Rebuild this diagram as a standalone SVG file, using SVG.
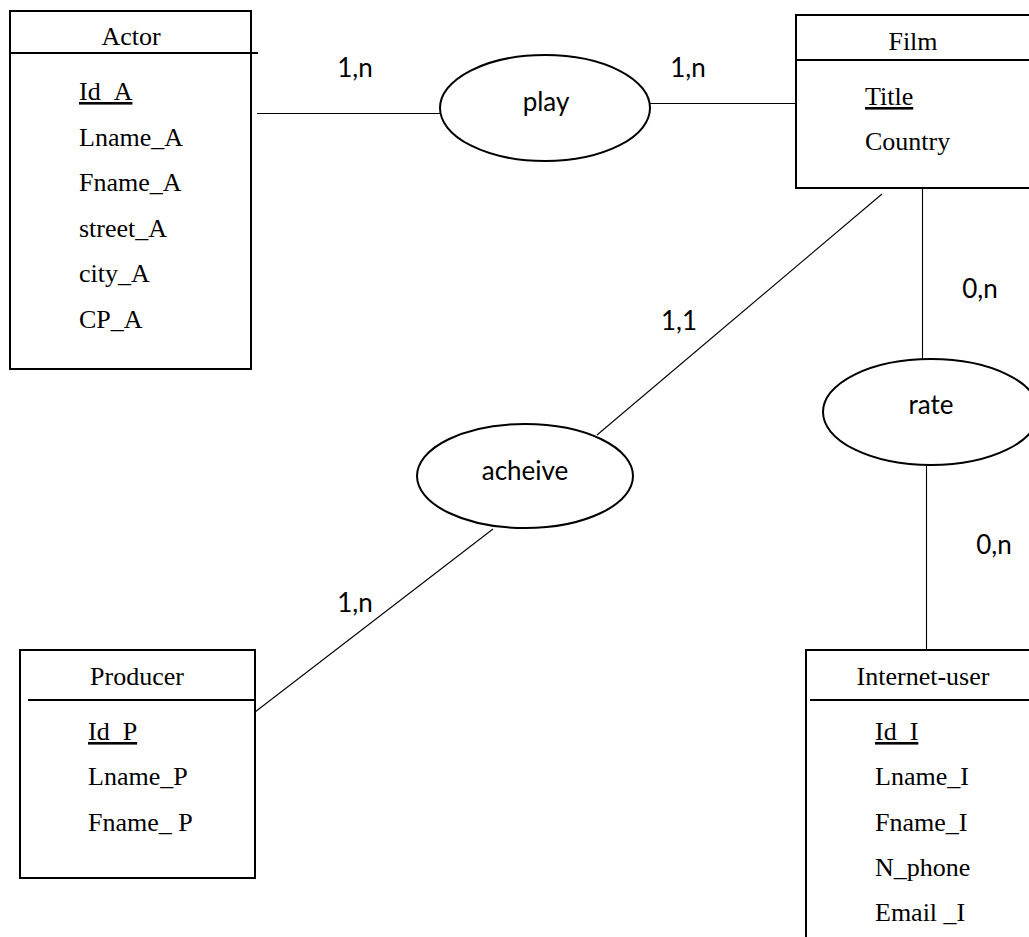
<svg xmlns="http://www.w3.org/2000/svg" width="1029" height="937" viewBox="0 0 1029 937">
<style>
.box{fill:#fff;stroke:#000;stroke-width:2}
.hdr{stroke:#000;stroke-width:2}
.ell{fill:#fff;stroke:#000;stroke-width:2}
.con{stroke:#000;stroke-width:1.1;fill:none}
.t{font-family:"Liberation Serif","Times New Roman",serif;font-size:26px;fill:#000}
.c{text-anchor:middle}
.u{text-decoration:underline}
.s{font-family:Lato,"Open Sans",sans-serif;font-size:26px;fill:#000;text-anchor:middle}
</style>
<rect width="1029" height="937" fill="#fff"/>
<g id="connectors">
<line class="con" x1="257" y1="113.5" x2="441" y2="113.5"/>
<line class="con" x1="650" y1="103.5" x2="796" y2="103.5"/>
<line class="con" x1="882" y1="194" x2="597" y2="435"/>
<line class="con" x1="922.5" y1="189" x2="922.5" y2="360"/>
<line class="con" x1="926.5" y1="466" x2="926.5" y2="651"/>
<line class="con" x1="255" y1="712" x2="493" y2="529"/>
<text class="s" x="355" y="77">1,n</text>
<text class="s" x="688" y="77">1,n</text>
<text class="s" x="679" y="330">1,1</text>
<text class="s" x="980" y="298">0,n</text>
<text class="s" x="994" y="554">0,n</text>
<text class="s" x="355" y="612">1,n</text>
</g>
<g id="actor">
<rect class="box" x="10" y="11" width="241" height="358"/>
<line class="hdr" x1="10" y1="53" x2="258" y2="53"/>
<text class="t c" x="131" y="45">Actor</text>
<text class="t u" x="79" y="100">Id_A</text>
<text class="t" x="79" y="145.5">Lname_A</text>
<text class="t" x="79" y="191">Fname_A</text>
<text class="t" x="79" y="236.5">street_A</text>
<text class="t" x="79" y="282">city_A</text>
<text class="t" x="79" y="327.5">CP_A</text>
</g>
<g id="film">
<rect class="box" x="796" y="15" width="245" height="173"/>
<line class="hdr" x1="796" y1="60" x2="1029" y2="60"/>
<text class="t c" x="913" y="50">Film</text>
<text class="t u" x="865" y="105">Title</text>
<text class="t" x="865" y="150">Country</text>
</g>
<g id="play">
<ellipse class="ell" cx="545" cy="108" rx="105" ry="53"/>
<text class="s" x="546" y="111">play</text>
</g>
<g id="acheive">
<ellipse class="ell" cx="525" cy="476" rx="108" ry="52"/>
<text class="s" x="525" y="480">acheive</text>
</g>
<g id="rate">
<ellipse class="ell" cx="931" cy="412" rx="108" ry="53"/>
<text class="s" x="931" y="414">rate</text>
</g>
<g id="producer">
<rect class="box" x="20" y="650" width="235" height="228"/>
<line class="hdr" x1="28" y1="700" x2="255" y2="700"/>
<text class="t c" x="137" y="685">Producer</text>
<text class="t u" x="88" y="740">Id_P</text>
<text class="t" x="88" y="785">Lname_P</text>
<text class="t" x="88" y="831">Fname_ P</text>
</g>
<g id="internet-user">
<path class="box" d="M806 940 V650 H1040"/>
<line class="hdr" x1="810" y1="700" x2="1029" y2="700"/>
<text class="t c" x="923" y="685">Internet-user</text>
<text class="t u" x="875" y="740">Id_I</text>
<text class="t" x="875" y="785">Lname_I</text>
<text class="t" x="875" y="831">Fname_I</text>
<text class="t" x="875" y="876">N_phone</text>
<text class="t" x="875" y="921">Email _I</text>
</g>
</svg>
